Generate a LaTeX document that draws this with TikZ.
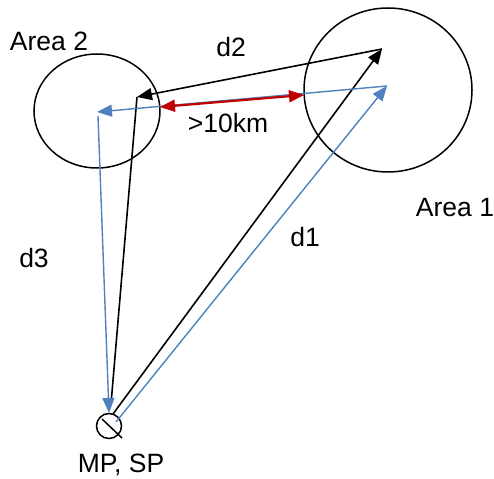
\documentclass[tikz,border=0pt]{standalone}
\usepackage{fontspec}
\setmainfont{Liberation Sans}
\usetikzlibrary{arrows.meta,shapes.geometric}
\definecolor{oblue}{HTML}{4F81BD}
\definecolor{ored}{HTML}{C00000}
\begin{document}
\begin{tikzpicture}[x=1pt,y=-1pt,
  lbl/.style={font=\fontsize{26.5}{31}\selectfont,inner sep=0pt},
  ring/.style={draw=black,line width=1.5pt},
  blk/.style={draw=black,line width=1.6pt,-{Triangle[length=15pt,width=12pt]}},
  blu/.style={draw=oblue,line width=1.4pt,-{Triangle[length=15pt,width=12pt]}},
  redar/.style={draw=ored,line width=2.2pt,{Triangle[length=15pt,width=12pt]}-{Triangle[length=15pt,width=12pt]}}]
\useasboundingbox (0,0) rectangle (494,478);
% areas
\node[ring,ellipse,minimum width=126pt,minimum height=114pt,inner sep=0pt] (area2) at (97,111) {};
\node[ring,ellipse,minimum width=168pt,minimum height=164pt,inner sep=0pt] (area1) at (388,90) {};
% MP symbol
\node[ring,circle,minimum size=25pt,inner sep=0pt] (mp) at (109,426) {};
\coordinate (dg1) at (102,419);
\coordinate (dg2) at (122,438);
\draw[line width=1.5pt] (dg1) -- (dg2);
% points
\coordinate (mpk1) at (113,414);
\coordinate (a1k) at (382,49);
\coordinate (a2k) at (137,97);
\coordinate (mpk2) at (111,404);
\coordinate (mpb1) at (116,422);
\coordinate (a1b) at (387,86);
\coordinate (a2b) at (97,112);
\coordinate (a2b2) at (98,116);
\coordinate (mpb2) at (109,413);
\coordinate (r1) at (160,107);
\coordinate (r2) at (304,95);
% black
\draw[blk] (mpk1) -- (a1k);
\draw[blk] (a1k) -- (a2k);
\draw[black,line width=1.6pt] (a2k) -- (mpk2);
% blue
\draw[blu] (mpb1) -- (a1b);
\draw[blu] (a1b) -- (a2b);
\draw[blu] (a2b2) -- (mpb2);
% red
\draw[redar] (r1) -- (r2);
% labels
\node[lbl] (la2) at (49,41) {Area 2};
\node[lbl] (ld2) at (231,47) {d2};
\node[lbl] (lkm) at (228,123) {>10km};
\node[lbl] (la1) at (455,208) {Area 1};
\node[lbl] (ld1) at (305,237) {d1};
\node[lbl] (ld3) at (34,258) {d3};
\node[lbl] (lmp) at (121,465) {MP, SP};
\end{tikzpicture}
\end{document}
